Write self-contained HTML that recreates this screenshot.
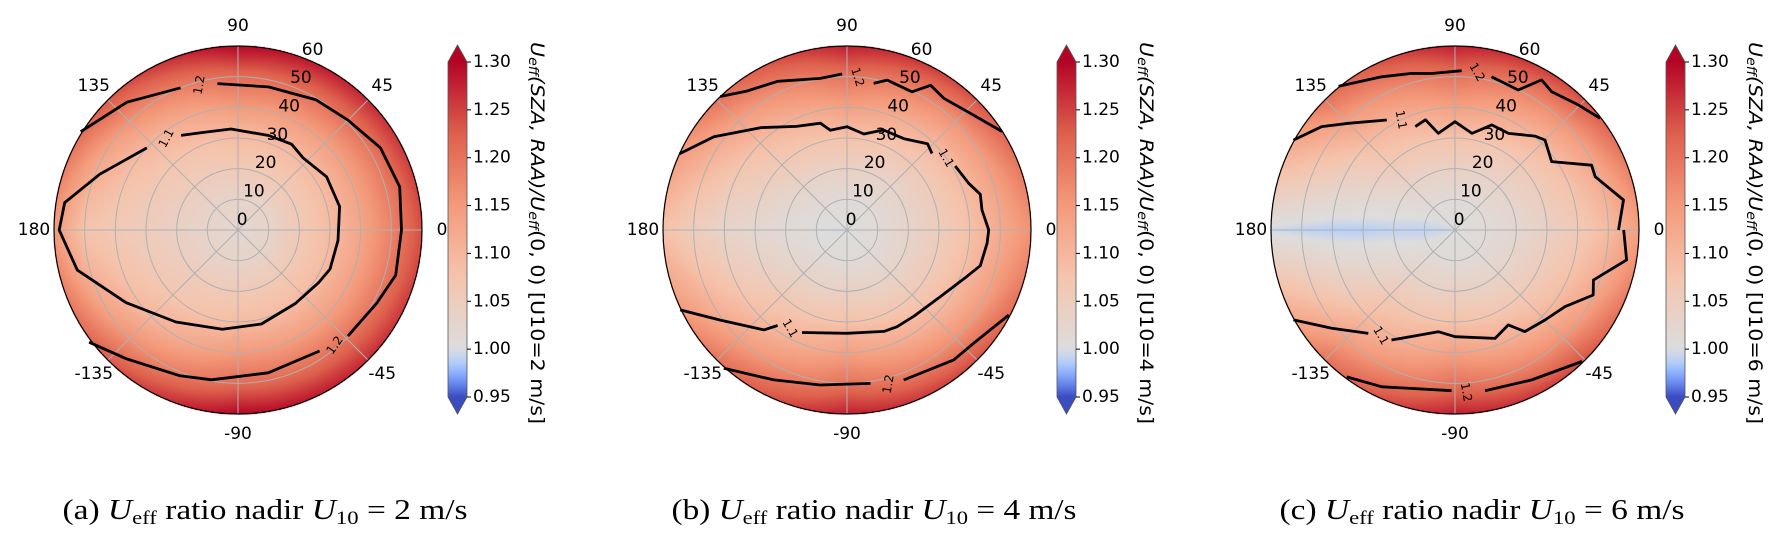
<!DOCTYPE html>
<html><head><meta charset="utf-8">
<style>
html,body{margin:0;padding:0;background:#fff;}
#wrap{position:relative;width:1780px;height:540px;overflow:hidden;}
canvas{position:absolute;}
svg{position:absolute;left:0;top:0;}
text{font-family:"DejaVu Sans","Liberation Sans",sans-serif;}
</style></head>
<body>
<div id="wrap">
<svg id="svg" width="1780" height="540"></svg>
</div>
<script>
// ---- data ----
const szaLevels = [0,10,20,30,40,50,60];
const raaLevels = [0,45,90,135,180];
const fieldA = [
 [1.02,1.03,1.06,1.09,1.13,1.18,1.24],
 [1.02,1.03,1.06,1.09,1.14,1.20,1.27],
 [1.02,1.03,1.06,1.09,1.15,1.21,1.30],
 [1.02,1.03,1.05,1.07,1.10,1.16,1.23],
 [1.02,1.03,1.04,1.05,1.06,1.075,1.15]];
const fieldB = [
 [1.00,1.01,1.03,1.05,1.08,1.12,1.16],
 [1.00,1.01,1.03,1.06,1.10,1.16,1.24],
 [1.00,1.01,1.04,1.08,1.14,1.20,1.28],
 [1.00,1.01,1.03,1.06,1.09,1.14,1.20],
 [0.995,1.00,1.01,1.02,1.03,1.05,1.08]];
const fieldC = [
 [1.00,1.01,1.02,1.04,1.06,1.09,1.14],
 [1.00,1.01,1.03,1.06,1.10,1.16,1.24],
 [1.00,1.01,1.04,1.08,1.14,1.20,1.28],
 [1.00,1.01,1.03,1.06,1.09,1.14,1.20],
 [0.995,0.99,0.99,0.987,0.987,0.99,0.995]];
// contours: [raa, sza] pairs, each array a segment
const contA11 = [[[121,36],[111,34],[94,33],[72,32.4],[58,33],[48,31.7],[31,33.7],[13,34],[-6,32.8],[-23,32.6],[-33,31.4],[-52,30.4],[-76,31.6],[-99,32.8],[-124,36.2],[-147,43.5],[-166,54],[-180,58.3],[171,57.2],[158,48.6],[138,40]]];
const contA12 = [[[148,60.5],[131,55.2],[112,50]],[[98,48.2],[78,47.7],[59,49.5],[45,50.7],[30,53.6],[15,54.6],[0,53.3],[-16,53.5],[-28,51.1],[-44,49.8]],[[-56,47.6],[-78,47.6],[-100,49.6],[-112,51.2],[-131,55.6],[-143,60.8]]];
const contB11 = [[[155.5,60],[145,53],[130,43.6],[116,37.6],[104,35.9],[99.5,33],[90,33.7],[80,31.8],[70,34.7],[58,35.1],[47,38.5],[42,37.3]],[[30.6,41],[21,42.5],[15,45],[8.4,44.5],[0,46.2],[-5.4,45.9],[-15,45],[-21,42],[-35.5,37.4],[-52,35.6],[-62.6,35.5],[-70,35.2],[-90,33.7],[-113.7,36.5]],[[-126,38.5],[-129.8,42.4],[-144.6,50.7],[-154.4,60.3]]];
const contB12 = [[[133.5,60],[125.7,55.8],[115,53.5],[100,50.2],[91.8,50.9]],[[79.7,48.6],[75,50.6],[64.8,49.8],[60,54.5],[53.7,53.3],[43.4,55.4],[32.4,59.9]],[[-131.7,60.4],[-116,54.4],[-99.8,51.3],[-81.3,50.6]],[[-69.3,52.3],[-50.6,54.8],[-41.8,55.4],[-27.7,59.6]]];
const contC11 = [[[150.9,60.3],[142.2,55],[135,49.2],[121.8,42.2]],[[111,36.1],[105,37.2],[99.8,32],[90,35.3],[80,32],[70.7,36.3],[61,36],[49.6,40.2],[45,41.5],[35.3,38.6],[25.4,49.3],[20.8,48.9],[10.1,55.8],[0,53.3]],[[0,55],[-9.9,56.8],[-19.9,48],[-25.2,49.8],[-34.9,43.7],[-45,41.5],[-55.5,40.2],[-60.7,35.5],[-69.7,37.7],[-90,34.8],[-99.3,33.6],[-120,41.4]],[[-130,44],[-141.4,51.4],[-150.9,60.3]]];
const contC12 = [[[129,60.3],[115.6,55.4],[105.5,53],[98.5,51.6],[87.6,52]],[[76.6,51.4],[65.7,50.1],[60,56.5],[55,55],[45.4,57.3],[37.6,59.7]],[[-126.4,59.5],[-115,56.4],[-91.2,52.4]],[[-79.4,53.3],[-63,54.9],[-46,59.6]]];
// contour labels: [raa, sza, rotation, text]
const labA = [[128,38,-62,"1.1"],[105,49,-80,"1.2"],[-50,49,-55,"1.2"]];
const labB = [[36,40,60,"1.1"],[86,50,72,"1.2"],[-120,37,60,"1.1"],[-75,52,-80,"1.2"]];
const labC = [[116,40,80,"1.1"],[82,52,60,"1.2"],[-125,42,60,"1.1"],[-86,53,80,"1.2"]];
const angleTicks = [0,45,90,135,180,-135,-90,-45];
const radialTicks = [0,10,20,30,40,50,60];
const cbTicks = [1.30,1.25,1.20,1.15,1.10,1.05,1.00,0.95];
const windSpeeds = ["2","4","6"];
const letters = ["a","b","c"];

// ---- layout ----
const R = 184, CY = 230;
const centers = [238, 847, 1455];
const cbX = [448, 1057, 1666], cbW = 19, cbTop = 62, cbBot = 397;
const NS = "http://www.w3.org/2000/svg";
const svg = document.getElementById('svg');
const wrap = document.getElementById('wrap');

const stops = [[0,[59,76,192]],[0.125,[98,130,234]],[0.25,[141,176,254]],[0.375,[184,208,249]],[0.5,[221,221,221]],[0.625,[245,196,173]],[0.75,[244,154,123]],[0.875,[222,96,77]],[1,[180,4,38]]];
function cmap(v){
  let t = v<1 ? 0.5*(v-0.95)/0.05 : 0.5+0.5*(v-1)/0.3;
  t=Math.max(0,Math.min(1,t));
  for(let i=1;i<stops.length;i++){
    if(t<=stops[i][0]){const a=stops[i-1],b=stops[i];const f=(t-a[0])/(b[0]-a[0]);
      return [0,1,2].map(k=>Math.round(a[1][k]+(b[1][k]-a[1][k])*f));}
  }
  return stops[stops.length-1][1];
}
function sample(field,raa,sza){
  let a=Math.abs(raa); if(a>180)a=360-a;
  let i=Math.min(3,Math.floor(a/45)), fi=(a-raaLevels[i])/45;
  let s=Math.min(60,sza), j=Math.min(5,Math.floor(s/10)), fj=(s-szaLevels[j])/10;
  const v0=field[i][j]*(1-fj)+field[i][j+1]*fj;
  const v1=field[i+1][j]*(1-fj)+field[i+1][j+1]*fj;
  return v0*(1-fi)+v1*fi;
}
function px(cx,raa,sza){const r=sza/60*R, t=raa*Math.PI/180;return [cx+r*Math.cos(t), CY-r*Math.sin(t)];}
function el(tag,attrs,parent){const e=document.createElementNS(NS,tag);for(const k in attrs)e.setAttribute(k,attrs[k]);(parent||svg).appendChild(e);return e;}

const fields=[fieldA,fieldB,fieldC];
const conts=[[contA11,contA12],[contB11,contB12],[contC11,contC12]];
const labs=[labA,labB,labC];

const defs=el('defs',{});
const grad=el('linearGradient',{id:'cbgrad',x1:0,y1:1,x2:0,y2:0},defs);
for(let k=0;k<=40;k++){const v=0.95+0.35*k/40;const c=cmap(v);el('stop',{offset:k/40,'stop-color':`rgb(${c})`},grad);}

for(let p=0;p<3;p++){
  const cx=centers[p];
  const cv=document.createElement('canvas');
  
  
  const S=2*R+2; cv.width=S; cv.height=S;
  cv.style.left=(cx-R-1)+'px'; cv.style.top=(CY-R-1)+'px';
  const ctx=cv.getContext('2d'); const img=ctx.createImageData(S,S);
  for(let y=0;y<S;y++)for(let x=0;x<S;x++){
    const dx=x-R-1+0.5, dy=R+1-y-0.5; const d=Math.hypot(dx,dy); if(d>R+0.5)continue;
    const v=sample(fields[p],Math.atan2(dy,dx)*180/Math.PI,d/R*60);
    const c=cmap(v); const o=(y*S+x)*4;
    img.data[o]=c[0];img.data[o+1]=c[1];img.data[o+2]=c[2];img.data[o+3]=255;
  }
  ctx.putImageData(img,0,0);
  wrap.insertBefore(cv,svg);

  const g=el('g',{});
  
  
  for(const s of radialTicks){ if(s===0||s===60)continue;
    const c=el('circle',{cx:cx,cy:CY,r:s/60*R,fill:'none',stroke:'#b0b0b0','stroke-width':1},g);
    
    
  }
  for(const a of angleTicks){const q=px(cx,a,60);
    const l=el('line',{x1:cx,y1:CY,x2:q[0],y2:q[1],stroke:'#b0b0b0','stroke-width':1},g);
    
    
  }
  conts[p].forEach((lvl,li)=>{lvl.forEach(seg=>{
    const d=seg.map((pt,i)=>{const q=px(cx,pt[0],pt[1]);return (i?'L':'M')+q[0].toFixed(1)+' '+q[1].toFixed(1);}).join(' ');
    const path=el('path',{d:d,fill:'none',stroke:'#000','stroke-width':2.8,'stroke-linejoin':'round'},g);
    
    
  });});
  labs[p].forEach(L=>{const q=px(cx,L[0],L[1]);
    const t=el('text',{x:q[0],y:q[1],'font-size':12,'text-anchor':'middle','dominant-baseline':'central',transform:`rotate(${L[2]} ${q[0]} ${q[1]})`},g);
    t.textContent=L[3];
    
    
  });
  const oc=el('circle',{cx:cx,cy:CY,r:R,fill:'none',stroke:'#000','stroke-width':1.2},g);
  
  
  for(const a of angleTicks){const t=a*Math.PI/180;
    const x=cx+204*Math.cos(t), y=CY-204*Math.sin(t);
    const tx=el('text',{x:x,y:y,'font-size':17,'text-anchor':'middle','dominant-baseline':'central'},g);
    tx.textContent=String(a);
    
    
  }
  for(const s of radialTicks){const rr=s/60*R+11, t=67.5*Math.PI/180;
    const tx=el('text',{x:cx+rr*Math.cos(t),y:CY-rr*Math.sin(t),'font-size':17,'text-anchor':'middle','dominant-baseline':'central'},g);
    tx.textContent=String(s);
    
    
  }
  const bx=cbX[p];
  const cb=el('g',{},g);
  
  
  el('rect',{x:bx,y:cbTop,width:cbW,height:cbBot-cbTop,fill:'url(#cbgrad)'},cb);
  el('polygon',{points:`${bx},${cbTop} ${bx+cbW/2},${cbTop-17} ${bx+cbW},${cbTop}`,fill:`rgb(${cmap(1.3)})`},cb);
  el('polygon',{points:`${bx},${cbBot} ${bx+cbW/2},${cbBot+17} ${bx+cbW},${cbBot}`,fill:`rgb(${cmap(0.95)})`},cb);
  el('path',{d:`M${bx} ${cbTop} L${bx+cbW/2} ${cbTop-17} L${bx+cbW} ${cbTop} L${bx+cbW} ${cbBot} L${bx+cbW/2} ${cbBot+17} L${bx} ${cbBot} Z`,fill:'none',stroke:'#555','stroke-width':0.8},cb);
  for(const v of cbTicks){const y=cbTop+(1.30-v)/0.35*(cbBot-cbTop);
    el('line',{x1:bx+cbW,y1:y,x2:bx+cbW+4,y2:y,stroke:'#000','stroke-width':1},cb);
    const t=el('text',{x:bx+cbW+6,y:y,'font-size':17,'dominant-baseline':'central'},cb);
    t.textContent=v.toFixed(2);
    
    
  }
  const lx=bx+89, ly=233;
  const ct=el('text',{x:lx,y:ly,'font-size':19,'text-anchor':'middle','dominant-baseline':'central',transform:`rotate(90 ${lx} ${ly})`,textLength:382,lengthAdjust:'spacingAndGlyphs'},g);
  ct.innerHTML=`<tspan font-style="italic">U</tspan><tspan font-size="13" font-style="italic" dy="4">eff</tspan><tspan dy="-4" font-style="italic">(SZA, RAA)/U</tspan><tspan font-size="13" font-style="italic" dy="4">eff</tspan><tspan dy="-4">(0, 0) [U10=${windSpeeds[p]} m/s]</tspan>`;
  
  
  const capX=cx+27;
  const cap=el('text',{x:capX,y:519,'font-size':28,'text-anchor':'middle',style:'font-family:"Liberation Serif",serif',textLength:405,lengthAdjust:'spacingAndGlyphs'},g);
  cap.innerHTML=`(${letters[p]}) <tspan font-style="italic">U</tspan><tspan font-size="19" dy="5">eff</tspan><tspan dy="-5"> ratio nadir </tspan><tspan font-style="italic">U</tspan><tspan font-size="19" dy="5">10</tspan><tspan dy="-5"> = ${windSpeeds[p]} m/s</tspan>`;
  
  
}
</script>
</body></html>
